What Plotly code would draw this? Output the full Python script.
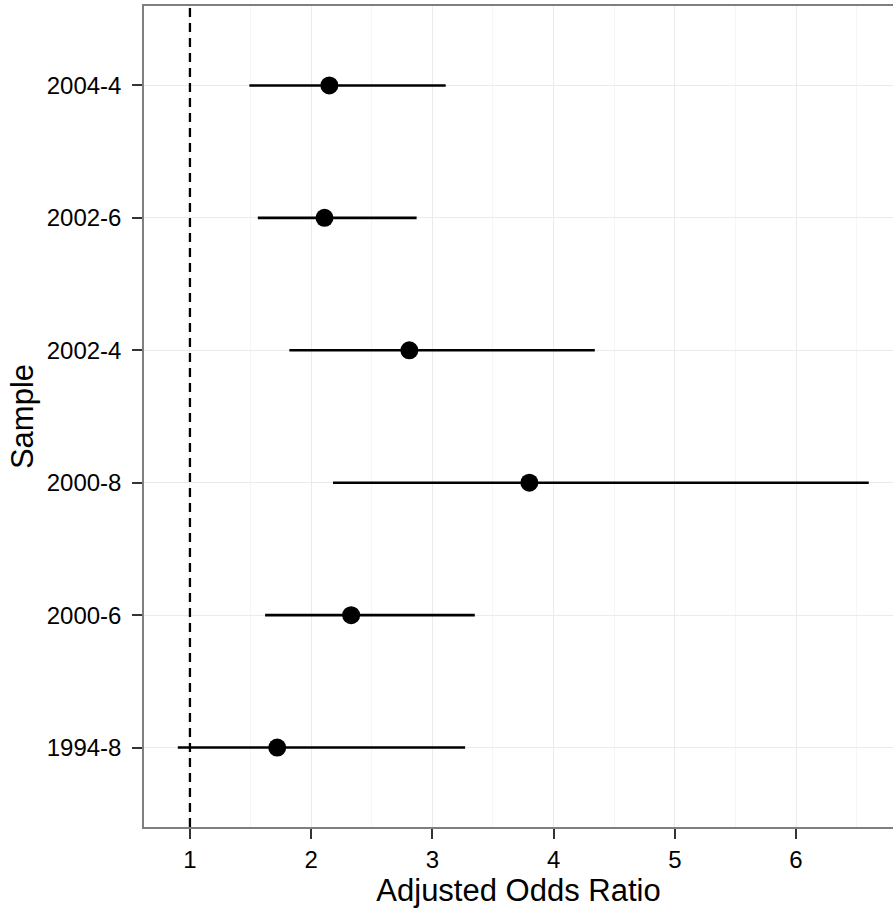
import plotly.graph_objects as go

samples = ["1994-8", "2000-6", "2000-8", "2002-4", "2002-6", "2004-4"]
odds_ratio = [1.72, 2.33, 3.80, 2.81, 2.11, 2.15]
ci_low = [0.90, 1.62, 2.18, 1.82, 1.56, 1.49]
ci_high = [3.27, 3.35, 6.60, 4.34, 2.87, 3.11]
x_ticks = [1, 2, 3, 4, 5, 6]

err_plus = [h - o for h, o in zip(ci_high, odds_ratio)]
err_minus = [o - l for o, l in zip(odds_ratio, ci_low)]

fig = go.Figure()
fig.add_trace(go.Scatter(
    x=odds_ratio, y=samples, mode="markers",
    marker=dict(color="black", size=18),
    error_x=dict(type="data", symmetric=False, array=err_plus, arrayminus=err_minus,
                 color="black", thickness=2.6, width=0),
    showlegend=False, cliponaxis=False,
))
fig.add_shape(type="line", xref="x", yref="paper", x0=1, x1=1, y0=0, y1=1,
              line=dict(color="black", width=2.3, dash="9px,6px"))

font = "Liberation Sans, Arial, sans-serif"
fig.update_layout(
    width=893, height=912,
    margin=dict(l=144, r=0, t=6, b=85),
    plot_bgcolor="white", paper_bgcolor="white",
    font=dict(family=font, color="black"),
    xaxis=dict(
        range=[0.621, 6.80], tickvals=x_ticks, ticktext=[str(v) for v in x_ticks],
        showgrid=True, gridcolor="#ebebeb", gridwidth=1,
        minor=dict(dtick=0.5, tick0=0.5, showgrid=True, gridcolor="#f5f5f5", gridwidth=1),
        showline=True, linecolor="#7f7f7f", linewidth=1.5, mirror=True,
        ticks="outside", ticklen=10, tickwidth=2, tickcolor="#333333",
        ticklabelstandoff=0,
        tickfont=dict(size=24, family=font, color="black"),
        title=dict(text="Adjusted Odds Ratio", font=dict(size=31, family=font, color="black"), standoff=0),
        zeroline=False,
    ),
    yaxis=dict(
        type="category", categoryorder="array", categoryarray=samples,
        range=[-0.6, 5.6],
        showgrid=True, gridcolor="#ebebeb", gridwidth=1,
        showline=True, linecolor="#7f7f7f", linewidth=1.5,
        ticks="outside", ticklen=10, tickwidth=2, tickcolor="#333333",
        ticklabelstandoff=6,
        tickfont=dict(size=24, family=font, color="black"),
        title=dict(text="Sample", font=dict(size=31, family=font, color="black"), standoff=4),
        zeroline=False,
    ),
)
fig.write_html("out.html", config={"displayModeBar": False},
               post_script="document.body.style.margin='0';")
